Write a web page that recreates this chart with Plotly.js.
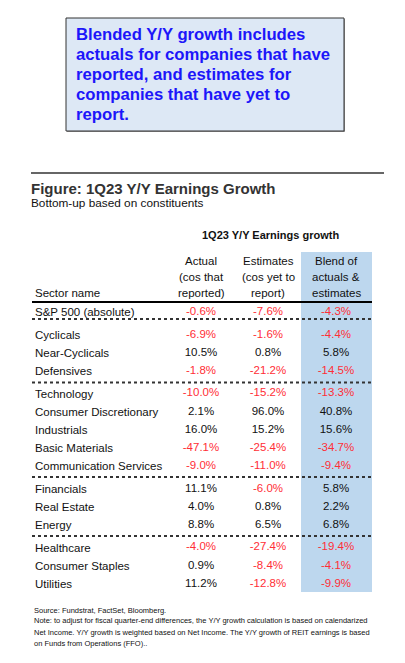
<!DOCTYPE html>
<html><head><meta charset="utf-8">
<script src="https://cdn.plot.ly/plotly-3.0.1.min.js"></script>
<style>html,body{margin:0;padding:0;background:#fff;}#chart{width:405px;height:663px;}</style>
</head><body><div id="chart"></div>
<script>
// ---- data ----
const calloutLines = ["Blended Y/Y growth includes","actuals for companies that have","reported, and estimates for","companies that have yet to","report."];
const figTitle = "Figure: 1Q23 Y/Y Earnings Growth";
const figSubtitle = "Bottom-up based on constituents";
const groupHeader = "1Q23 Y/Y Earnings growth";
const colHeaders = [["Actual","(cos that","reported)"],["Estimates","(cos yet to","report)"],["Blend of","actuals &","estimates"]];
const sectorHeader = "Sector name";
const sectors = ["S&P 500 (absolute)","Cyclicals","Near-Cyclicals","Defensives","Technology","Consumer Discretionary","Industrials","Basic Materials","Communication Services","Financials","Real Estate","Energy","Healthcare","Consumer Staples","Utilities"];
const groups  = [0,1,1,1,2,2,2,2,2,3,3,3,4,4,4];
const actual    = [-0.6,-6.9,10.5,-1.8,-10.0,2.1,16.0,-47.1,-9.0,11.1,4.0,8.8,-4.0,0.9,11.2];
const estimates = [-7.6,-1.6,0.8,-21.2,-15.2,96.0,15.2,-25.4,-11.0,-6.0,0.8,6.5,-27.4,-8.4,-12.8];
const blend     = [-4.3,-4.4,5.8,-14.5,-13.3,40.8,15.6,-34.7,-9.4,5.8,2.2,6.8,-19.4,-4.1,-9.9];
const footnotes = ["Source: Fundstrat, FactSet, Bloomberg.",
 "Note: to adjust for fiscal quarter-end differences, the Y/Y growth calculation is based on calendarized",
 "Net Income. Y/Y growth is weighted based on Net Income. The Y/Y growth of REIT earnings is based",
 "on Funds from Operations (FFO).."];

// ---- layout constants ----
const FONT = "Arial, 'Liberation Sans', sans-serif";
const RED = "#ff2e36", BLACK = "#111";
const colX = [201, 268, 336];
const labelX = 33;
const row0 = 312, rowStep = 18.1, groupGap = 4.6;
const rowY = sectors.map((s,i)=> row0 + i*rowStep + groups[i]*groupGap);
const fmt = v => v.toFixed(1) + "%";

const ann = [];
const shapes = [];
// callout
shapes.push({type:'rect',xref:'x',yref:'y',x0:67,x1:345,y0:19,y1:132,fillcolor:'#999',line:{width:0},layer:'below'});
shapes.push({type:'rect',xref:'x',yref:'y',x0:66,x1:344,y0:18,y1:131,fillcolor:'#dde8f5',line:{color:'#333',width:1},layer:'below'});
calloutLines.forEach((t,i)=>ann.push({x:74,y:34+i*20,text:t,xanchor:'left',yanchor:'middle',showarrow:false,font:{family:FONT,size:16.7,color:'#1c16fa',weight:'bold'}}));
// rule + titles
shapes.push({type:'line',x0:31,x1:384,y0:173,y1:173,line:{color:'#333',width:1.5}});
ann.push({x:29,y:188,text:figTitle,xanchor:'left',yanchor:'middle',showarrow:false,font:{family:FONT,size:15,color:'#333',weight:'bold'}});
ann.push({x:29,y:203,text:figSubtitle,xanchor:'left',yanchor:'middle',showarrow:false,font:{family:FONT,size:11.8,color:'#111'}});
// blend column background
shapes.push({type:'rect',x0:301,x1:372,y0:252,y1:592,fillcolor:'#bdd7ee',line:{width:0},layer:'below'});
// headers
ann.push({x:270,y:235,text:groupHeader,xanchor:'center',yanchor:'middle',showarrow:false,font:{family:FONT,size:11,color:BLACK,weight:'bold'}});
colHeaders.forEach((lines,c)=>lines.forEach((t,j)=>ann.push({x:colX[c],y:261+j*16,text:t,xanchor:'center',yanchor:'middle',showarrow:false,font:{family:FONT,size:11.5,color:BLACK}})));
ann.push({x:labelX,y:293,text:sectorHeader,xanchor:'left',yanchor:'middle',showarrow:false,font:{family:FONT,size:11.5,color:BLACK}});
shapes.push({type:'line',x0:32,x1:372,y0:302,y1:302,line:{color:'#000',width:2}});
// separators between groups
const sepOffsets = [7, 11.5, 11, 11];
let g = 0;
for (let i=1;i<sectors.length;i++){
  if (groups[i]!==groups[i-1]){
    const y = rowY[i-1] + sepOffsets[g]; g++;
    shapes.push({type:'line',x0:32,x1:372,y0:y,y1:y,line:{color:'#333',width:2,dash:'dot'}});
  }
}
// row labels
sectors.forEach((s,i)=>{
  ann.push({x:labelX,y:rowY[i],text:s.replace('&','&amp;'),xanchor:'left',yanchor:'middle',showarrow:false,font:{family:FONT,size:11.5,color:BLACK}});
});
// values as text scatter traces
const cols=[actual,estimates,blend];
const traces = cols.map((vals,c)=>({
  type:'scatter',mode:'text',x:vals.map(()=>colX[c]),y:rowY,text:vals.map(fmt),
  textposition:'middle center',hoverinfo:'skip',showlegend:false,
  textfont:{family:FONT,size:11.5,color:vals.map(v=>v<0?RED:BLACK)}
}));
// footnotes
footnotes.forEach((t,i)=>ann.push({x:32,y:610+(i===0?0:10.7+(i-1)*11.4),text:t,xanchor:'left',yanchor:'middle',showarrow:false,font:{family:FONT,size:7.5,color:'#111'}}));

const layout = {
  width:405,height:663,margin:{l:0,r:0,t:0,b:0},paper_bgcolor:'#fff',plot_bgcolor:'#fff',
  xaxis:{range:[0,405],visible:false,fixedrange:true},
  yaxis:{range:[663,0],visible:false,fixedrange:true},
  shapes:shapes,annotations:ann,showlegend:false
};
Plotly.newPlot('chart',traces,layout,{displayModeBar:false,staticPlot:true});
</script></body></html>
